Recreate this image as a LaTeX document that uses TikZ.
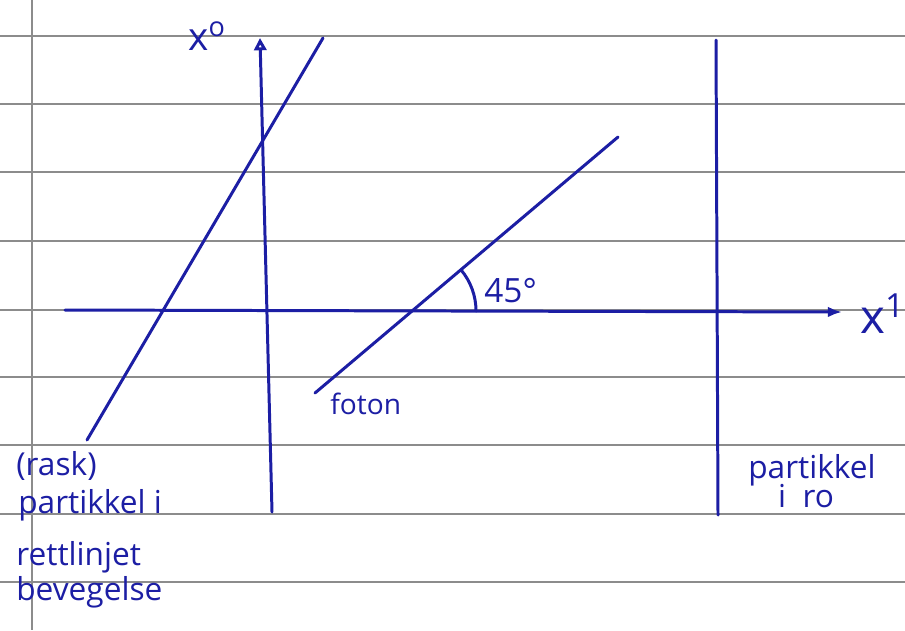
\documentclass[tikz,border=0pt]{standalone}
\usepackage{fontspec}
\setmainfont{Open Sans}
\usepackage{tikz}
\usetikzlibrary{arrows.meta}

\definecolor{ink}{HTML}{1C1EA4}
\definecolor{rulegray}{HTML}{8C8C8C}

\begin{document}
\begin{tikzpicture}[
        x=0.02cm, y=-0.02cm,
        % Style for the ruled paper
        ruled/.style={draw=rulegray, line width=0.7pt},
        % Style for pen strokes
        pen/.style={draw=ink, line width=1.7pt, line cap=round},
        % Style for handwritten labels
        hand/.style={text=ink, inner sep=0pt, font=\fontsize{18}{22}\selectfont}
    ]

        % 1. Paper
        \useasboundingbox[fill=white] (0,0) rectangle (905,630);
        \foreach \y in {36,104,172,241,310,377,445,514,582}
            \draw[ruled] (0,\y) -- (905,\y);
        \draw[ruled] (32,0) -- (32,630);

        % 2. Axes and world lines
        \coordinate (t0)    at (272,512);
        \coordinate (t1)    at (260,38);
        \coordinate (x0)    at (65,310);
        \coordinate (x1)    at (842,312);
        \coordinate (fast0) at (87,440);
        \coordinate (fast1) at (323,38);
        \coordinate (ph0)   at (315,393);
        \coordinate (ph1)   at (618,137);
        \coordinate (rest0) at (716,40);
        \coordinate (rest1) at (718,515);
        \coordinate (orig)  at (412,311);

        \draw[pen, -{Triangle[open, length=7pt, width=7pt]}] (t0) -- (t1);
        \draw[pen, -{Latex[length=8pt, width=6pt]}] (x0) -- (x1);
        \draw[pen] (fast0) -- (fast1);
        \draw[pen] (ph0) -- (ph1);
        \draw[pen] (rest0) -- (rest1);

        % angle between photon and x-axis
        \draw[pen] ([xshift=64*0.02cm]orig) arc[start angle=0, end angle=-40, radius=64];

        % 3. Labels
        \node[hand, anchor=base west, font=\fontsize{22}{26}\selectfont] (lx0) at (188,50) {x\textsuperscript{o}};
        \node[hand, anchor=base west, font=\fontsize{27}{32}\selectfont] (lx1) at (860,333) {x\textsuperscript{1}};
        \node[hand, anchor=base west, font=\fontsize{19}{22}\selectfont] (ang) at (484,302) {45°};
        \node[hand, anchor=base west, font=\fontsize{16}{20}\selectfont] (foton) at (330,414) {foton};

        \node[hand, anchor=base west] (fast1l) at (16,475) {(rask)};
        \node[hand, anchor=base west] (fast2l) at (18,513) {partikkel i};
        \node[hand, anchor=base west] (fast3l) at (16,565) {rettlinjet};
        \node[hand, anchor=base west] (fast4l) at (16,600) {bevegelse};

        \node[hand, anchor=base] (rest1l) at (812,478) {partikkel};
        \node[hand, anchor=base] (rest2l) at (806,507) {i \ ro};

\end{tikzpicture}
\end{document}
